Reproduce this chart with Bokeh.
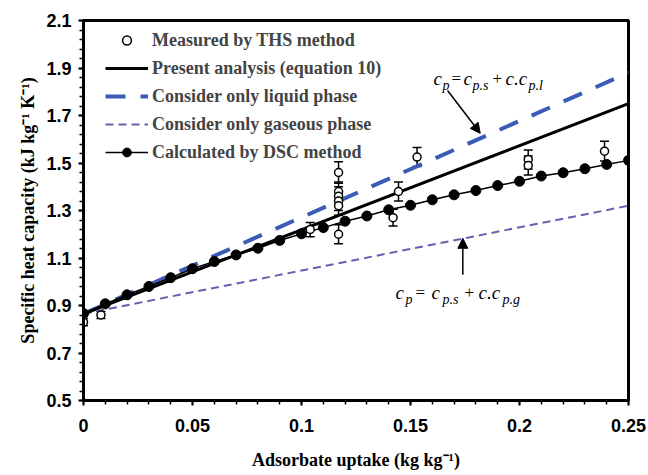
from bokeh.plotting import figure
from bokeh.models import (Range1d, FixedTicker, NumeralTickFormatter, Legend, LegendItem,
                          Whisker, TeeHead, ColumnDataSource, Label, Arrow, NormalHead)
from bokeh.embed import file_html
from bokeh.resources import INLINE

# ---------------- data ----------------
line_x = [0.0, 0.25]
present_y = [0.865, 1.75]
liquid_y = [0.865, 1.88]
gas_y = [0.865, 1.32]

dsc_x = [0.00, 0.01, 0.02, 0.03, 0.04, 0.05, 0.06, 0.07, 0.08, 0.09, 0.10, 0.11, 0.12,
         0.13, 0.14, 0.15, 0.16, 0.17, 0.18, 0.19, 0.20, 0.21, 0.22, 0.23, 0.24, 0.25]
dsc_y = [0.866, 0.907, 0.945, 0.980, 1.017, 1.055, 1.085, 1.113, 1.141, 1.174, 1.202, 1.228, 1.255,
         1.277, 1.303, 1.322, 1.345, 1.366, 1.384, 1.405, 1.423, 1.445, 1.459, 1.476, 1.494, 1.511]

ths_x = [0.0, 0.008, 0.104, 0.117, 0.117, 0.117, 0.117, 0.117, 0.117, 0.142, 0.1445, 0.153, 0.204, 0.204, 0.239]
ths_y = [0.83, 0.86, 1.22, 1.46, 1.38, 1.36, 1.34, 1.32, 1.20, 1.27, 1.38, 1.525, 1.515, 1.49, 1.55]
ths_err = [0.015, 0.015, 0.03, 0.045, 0.04, 0.04, 0.04, 0.04, 0.04, 0.035, 0.04, 0.04, 0.04, 0.04, 0.042]

x_ticks = [0, 0.05, 0.1, 0.15, 0.2, 0.25]
y_ticks = [0.5, 0.7, 0.9, 1.1, 1.3, 1.5, 1.7, 1.9, 2.1]

legend_labels = ["Measured by THS method", "Present analysis (equation 10)",
                 "Consider only liquid phase", "Consider only gaseous phase",
                 "Calculated by DSC method"]

BLUE = "#3b5cb6"
PURPLE = "#6a5fae"
SERIF = "Liberation Serif"
SANS = "Liberation Sans"

p = figure(width=648, height=475, output_backend="svg", toolbar_location=None,
           x_range=Range1d(0, 0.25), y_range=Range1d(0.5, 2.1),
           min_border_left=83, min_border_right=20, min_border_top=20, min_border_bottom=75)
p.grid.visible = False
p.outline_line_color = "black"
p.outline_line_width = 3
p.background_fill_color = "white"

# axes
for ax in (p.xaxis[0], p.yaxis[0]):
    ax.axis_line_width = 3
    ax.major_tick_line_width = 2
    ax.minor_tick_line_width = 1.5
    ax.major_tick_in = 0
    ax.minor_tick_in = 0
    ax.major_tick_out = 5
    ax.minor_tick_out = 4
    ax.major_label_text_font = SANS
    ax.major_label_text_font_style = "bold"
    ax.major_label_text_font_size = "18px"
    ax.major_label_text_color = "black"
    ax.axis_label_text_font = SERIF
    ax.axis_label_text_font_style = "bold"
    ax.axis_label_text_font_size = "18px"
    ax.axis_label_text_color = "black"

p.xaxis.ticker = FixedTicker(ticks=x_ticks, minor_ticks=[i / 100 for i in range(26)])
p.yaxis.ticker = FixedTicker(ticks=y_ticks, minor_ticks=[0.5 + i * 0.04 for i in range(41)])
p.xaxis.formatter = NumeralTickFormatter(format="0.[00]")
p.yaxis.formatter = NumeralTickFormatter(format="0.0")
p.xaxis.major_label_standoff = 13
p.yaxis.major_label_standoff = 7
p.xaxis.axis_label = "Adsorbate uptake (kg kg\u207b\u00b9)"
p.yaxis.axis_label = "Specific heat capacity (kJ kg\u207b\u00b9 K\u207b\u00b9)"
p.xaxis.axis_label_standoff = 15
p.yaxis.axis_label_standoff = 5

# lines
r_gas = p.line(line_x, gas_y, line_color=PURPLE, line_width=2, line_dash="8 5")
r_liq = p.line(line_x, liquid_y, line_color=BLUE, line_width=4, line_dash="20 15")
r_pres = p.line(line_x, present_y, line_color="black", line_width=3)
r_dsc_l = p.line(dsc_x, dsc_y, line_color="black", line_width=1.5)
r_dsc_m = p.scatter(dsc_x, dsc_y, size=10, marker="circle", fill_color="black", line_color="black")

# THS measurements with error bars
src = ColumnDataSource(dict(x=ths_x, y=ths_y,
                            lo=[y - e for y, e in zip(ths_y, ths_err)],
                            hi=[y + e for y, e in zip(ths_y, ths_err)]))
wh = Whisker(source=src, base="x", lower="lo", upper="hi", line_color="black", line_width=1.5,
             upper_head=TeeHead(size=9, line_color="black", line_width=1.5),
             lower_head=TeeHead(size=9, line_color="black", line_width=1.5))
p.add_layout(wh)
r_ths = p.scatter("x", "y", source=src, size=8, marker="circle", fill_color="white",
                  line_color="black", line_width=1.5)

# legend
legend = Legend(items=[
    LegendItem(label=legend_labels[0], renderers=[r_ths]),
    LegendItem(label=legend_labels[1], renderers=[r_pres]),
    LegendItem(label=legend_labels[2], renderers=[r_liq]),
    LegendItem(label=legend_labels[3], renderers=[r_gas]),
    LegendItem(label=legend_labels[4], renderers=[r_dsc_l, r_dsc_m]),
], location=(22, 237), glyph_width=43, glyph_height=22, label_height=22, spacing=6,
    padding=5, margin=0, label_standoff=4, border_line_color=None, background_fill_alpha=0,
    label_text_font=SERIF, label_text_font_style="bold", label_text_font_size="18px")
p.add_layout(legend)

# annotations
def formula(x0, y0, pieces):
    for txt, dx, sub in pieces:
        plain = txt in ("=", "+")
        p.add_layout(Label(x=x0, y=y0, x_offset=dx, y_offset=-7 if sub else 0, text=txt,
                           text_font=SERIF, text_font_style="normal" if plain else "italic",
                           text_font_size="14px" if sub else ("17px" if plain else "19px"),
                           text_color="black", text_baseline="alphabetic", text_align="left"))

formula(0.1606, 1.856, [("c", 0, False), ("p", 9, True), ("=", 18, False), ("c", 30, False),
                        ("p.s", 39, True), ("+", 59, False), ("c.c", 72, False), ("p.l", 95, True)])
formula(0.1431, 0.955, [("c", 0, False), ("p", 10, True), ("=", 20, False), ("c", 36, False),
                        ("p.s", 47, True), ("+", 69, False), ("c.c", 83, False), ("p.g", 107, True)])

p.add_layout(Arrow(end=NormalHead(size=10, fill_color="black", line_color="black"),
                   x_start=0.167, y_start=1.805, x_end=0.182, y_end=1.625,
                   line_color="black", line_width=1.5))
p.add_layout(Arrow(end=NormalHead(size=10, fill_color="black", line_color="black"),
                   x_start=0.174, y_start=1.03, x_end=0.174, y_end=1.183,
                   line_color="black", line_width=1.5))

open("out.html", "w").write(file_html(p, INLINE))
